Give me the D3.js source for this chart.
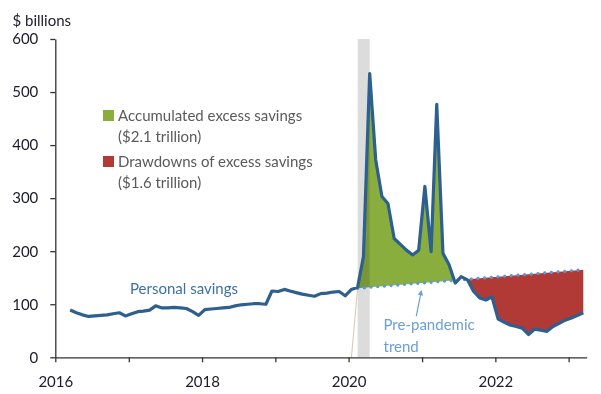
<!DOCTYPE html>
<html>
<head>
<meta charset="utf-8">
<script src="https://cdn.jsdelivr.net/npm/d3@7"></script>
<style>
  body { margin: 0; background: #fff; }
  svg { font-family: Lato, "Open Sans", sans-serif; }
</style>
</head>
<body>
<svg id="chart" width="601" height="394"></svg>
<script>
// monthly personal savings, $ billions, Mar 2016 .. Mar 2023
const firstMonth = "2016-03";
const savings = [
  89, 84, 80, 77, 78, 79, 80, 82, 84, 78,
  82, 86, 87, 89, 97, 93, 93, 94, 93, 92, 86, 79,
  90, 91, 92, 93, 94, 97, 99, 100, 101, 101, 100, 125,
  124, 128, 125, 122, 119, 117, 115, 120, 121, 123, 124, 116,
  128, 132, 190, 535, 372, 303, 290, 224, 213, 202, 193, 202,
  322, 199, 477, 196, 175, 140, 152, 146, 124, 112, 108, 114,
  72, 66, 61, 58, 55, 43, 53, 51, 49, 58, 64, 70,
  74, 79, 84
];

// pre-pandemic trend, straight line between two months
const trendMonths = ["2020-02", "2023-03"];
const trendValues = [130, 165];

const recession = ["2020-02", "2020-04"];
const accumPeriod = ["2020-02", "2021-06"];
const drawPeriod = ["2021-08", "2023-03"];

const yTicks = [0, 100, 200, 300, 400, 500, 600];
const xLabelYears = [2016, 2018, 2020, 2022];
const legendItems = [
  { label: "Accumulated excess savings", sub: "($2.1 trillion)", color: "#8aae3e" },
  { label: "Drawdowns of excess savings", sub: "($1.6 trillion)", color: "#b23a36" }
];

const parseMonth = d3.timeParse("%Y-%m");
const mid = s => d3.timeDay.offset(parseMonth(s), 14);

const start = parseMonth(firstMonth);
const data = savings.map((v, i) => ({ date: d3.timeDay.offset(d3.timeMonth.offset(start, i), 14), value: v }));

const svg = d3.select("#chart");

const x = d3.scaleTime().domain([new Date(2016, 0, 1), new Date(2023, 3, 1)]).range([55.3, 586.7]);
const y = d3.scaleLinear().domain([0, 600]).range([357.3, 39]);
const trend = d3.scaleTime().domain(trendMonths.map(mid)).range(trendValues);

const inPeriod = (d, p) => d.date >= mid(p[0]) && d.date <= mid(p[1]);

// excess savings areas between the line and the trend
const green = data.filter(d => inPeriod(d, accumPeriod));
const red = data.filter(d => inPeriod(d, drawPeriod));

svg.append("path")
  .datum(green)
  .attr("fill", legendItems[0].color)
  .attr("d", d3.area()
    .x(d => x(d.date))
    .y0(d => y(trend(d.date)))
    .y1(d => y(Math.max(d.value, trend(d.date)))));

svg.append("path")
  .datum(red)
  .attr("fill", legendItems[1].color)
  .attr("d", d3.area()
    .x(d => x(d.date))
    .y0(d => y(trend(d.date)))
    .y1(d => y(Math.min(d.value, trend(d.date)))));

// recession band
svg.append("rect")
  .attr("x", x(mid(recession[0])))
  .attr("width", x(mid(recession[1])) - x(mid(recession[0])))
  .attr("y", y(600))
  .attr("height", y(0) - y(600))
  .attr("fill", "#dcdcdc")
  .style("mix-blend-mode", "multiply");

// thin stub where the excess series starts from zero
svg.append("line")
  .attr("x1", x(mid("2020-01"))).attr("y1", y(0))
  .attr("x2", x(mid(trendMonths[0]))).attr("y2", y(trendValues[0]))
  .attr("stroke", "#dcc7ab").attr("stroke-width", 1);

// trend, dotted
svg.append("line")
  .attr("x1", x(mid(trendMonths[0]))).attr("y1", y(trendValues[0]))
  .attr("x2", x(mid(trendMonths[1]))).attr("y2", y(trendValues[1]))
  .attr("stroke", "#5a9ad6")
  .attr("stroke-width", 3.2)
  .attr("stroke-linecap", "round")
  .attr("stroke-dasharray", "0.1,6.6");

// personal savings line
svg.append("path")
  .datum(data)
  .attr("fill", "none")
  .attr("stroke", "#2d5f8f")
  .attr("stroke-width", 3.2)
  .attr("stroke-linejoin", "round")
  .attr("d", d3.line().x(d => x(d.date)).y(d => y(d.value)));

// axes
const yAxis = svg.append("g")
  .attr("transform", `translate(${x.range()[0]},0)`)
  .call(d3.axisLeft(y).tickValues(yTicks).tickSize(5).tickSizeOuter(0).tickPadding(12));

const xAxis = svg.append("g")
  .attr("transform", `translate(0,${y(0)})`)
  .call(d3.axisBottom(x)
    .ticks(d3.timeYear.every(1))
    .tickSize(5).tickSizeOuter(0).tickPadding(14)
    .tickFormat(d => xLabelYears.includes(d.getFullYear()) ? d.getFullYear() : ""));

[yAxis, xAxis].forEach(a => {
  a.selectAll("path, line").attr("stroke", "#333").attr("stroke-width", 1.3);
  a.selectAll("text").attr("fill", "#1b1b2a").style("font-size", "15px").style("font-family", "Lato, sans-serif");
});

svg.append("text")
  .attr("x", 12.5).attr("y", 26)
  .attr("fill", "#1b1b2a")
  .style("font-size", "15px")
  .text("$ billions");

// labels
svg.append("text")
  .attr("x", 130).attr("y", 294)
  .attr("fill", "#3b70aa")
  .style("font-size", "15px")
  .text("Personal savings");

const tipX = x(new Date(2020, 11, 28));
const tipY = y(trend(new Date(2020, 11, 28))) + 8;
svg.append("defs").append("marker")
  .attr("id", "arrow")
  .attr("viewBox", "0 0 10 10")
  .attr("refX", 8).attr("refY", 5)
  .attr("markerWidth", 4.5).attr("markerHeight", 4.5)
  .attr("orient", "auto")
  .append("path").attr("d", "M0,0L10,5L0,10Z").attr("fill", "#6a9fd8");

svg.append("line")
  .attr("x1", tipX - 5).attr("y1", tipY + 25)
  .attr("x2", tipX).attr("y2", tipY)
  .attr("stroke", "#6a9fd8").attr("stroke-width", 1.2)
  .attr("marker-end", "url(#arrow)");

const trendLabel = svg.append("text")
  .attr("fill", "#6a9fd8")
  .style("font-size", "15px");
trendLabel.append("tspan").attr("x", 383.5).attr("y", 330).text("Pre-pandemic");
trendLabel.append("tspan").attr("x", 383.5).attr("y", 352).text("trend");

// legend
legendItems.forEach((item, i) => {
  const g = svg.append("g").attr("transform", `translate(103,${110 + i * 46})`);
  g.append("rect").attr("width", 11).attr("height", 11).attr("fill", item.color);
  g.append("text").attr("x", 15).attr("y", 10.5)
    .attr("fill", "#5a5a5a").style("font-size", "15px").text(item.label);
  g.append("text").attr("x", 15).attr("y", 31.5)
    .attr("fill", "#5a5a5a").style("font-size", "15px").text(item.sub);
});
</script>
</body>
</html>
